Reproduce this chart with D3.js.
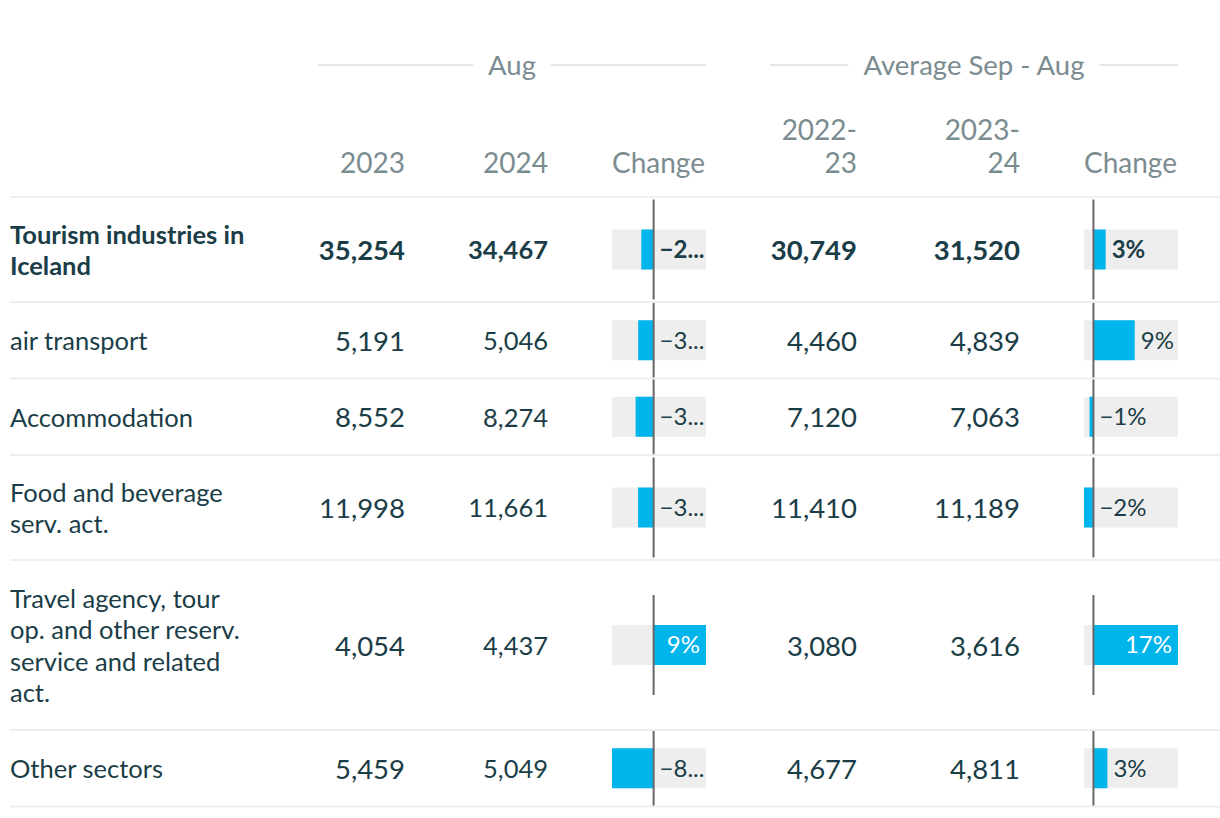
<!DOCTYPE html>
<html><head><meta charset="utf-8">
<script src="https://cdn.jsdelivr.net/npm/d3@7"></script>
<style>
body{margin:0;background:#fff}
text{font-family:Lato,"Noto Sans",sans-serif}
</style></head>
<body><svg id="c" width="1220" height="818"></svg>
<script>
const rowLabels = ["Tourism industries in Iceland","air transport","Accommodation","Food and beverage serv. act.","Travel agency, tour op. and other reserv. service and related act.","Other sectors"];
const aug2023 = [35254,5191,8552,11998,4054,5459];
const aug2024 = [34467,5046,8274,11661,4437,5049];
const augChange = [-2.23,-2.79,-3.25,-2.81,9.45,-7.51];
const avg2223 = [30749,4460,7120,11410,3080,4677];
const avg2324 = [31520,4839,7063,11189,3616,4811];
const avgChange = [2.51,8.50,-0.80,-1.94,17.40,2.87];
const groupHeaders = ["Aug","Average Sep - Aug"];
const columnHeaders = [["2023"],["2024"],["Change"],["2022-","23"],["2023-","24"],["Change"]];

const svg = d3.select("#c");
const dark = "#1a3d47", grey = "#7b8c90", blue = "#00b4ec", bg = "#eeeeee";
const fmtN = d3.format(",");
const fmtP = d3.format(".0%");

// group headers
const groups = [{x0:318,x1:706},{x0:770,x1:1178}];
groups.forEach((g,i)=>{
  const cx=(g.x0+g.x1)/2;
  const t=svg.append("text").attr("x",cx).attr("y",65).attr("dy","0.35em")
    .attr("text-anchor","middle").attr("fill",grey).attr("font-size",27.5).text(groupHeaders[i]);
  const w=t.node().getComputedTextLength();
  svg.append("line").attr("x1",g.x0).attr("x2",cx-w/2-15).attr("y1",65).attr("y2",65).attr("stroke","#c8cdcf").attr("stroke-width",1);
  svg.append("line").attr("x1",cx+w/2+15).attr("x2",g.x1).attr("y1",65).attr("y2",65).attr("stroke","#c8cdcf").attr("stroke-width",1);
});

// columns
const colRight=[405,548,706,857,1020,1178];
columnHeaders.forEach((lines,i)=>{
  lines.forEach((l,j)=>{
    svg.append("text").attr("x",colRight[i]-(i==2||i==5?1:0)).attr("y",163-(lines.length-1-j)*33).attr("dy","0.35em")
      .attr("text-anchor","end").attr("fill",grey).attr("font-size",28).text(l);
  });
});

const labelFs=25.5;
function wrap(str,bold,maxW){
  const tmp=svg.append("text").attr("font-size",labelFs).attr("font-weight",bold?700:400);
  const words=str.split(" "); const lines=[]; let cur="";
  words.forEach(w=>{
    const test=cur?cur+" "+w:w;
    tmp.text(test);
    if(tmp.node().getComputedTextLength()>maxW && cur){lines.push(cur);cur=w;} else cur=test;
  });
  lines.push(cur); tmp.remove(); return lines;
}

const lineH=32.5, pad=20;
let y=197;
const rows=rowLabels.map((lab,i)=>{
  const lines=wrap(lab,i===0,242);
  const h=Math.max(76.5,lines.length*lineH+pad*2);
  const r={i,lab,lines,top:y,h,cy:y+h/2};
  y+=h; return r;
});

// separators
svg.append("line").attr("x1",10).attr("x2",1220).attr("y1",197).attr("y2",197).attr("stroke",bg).attr("stroke-width",2);
rows.forEach(r=>svg.append("line").attr("x1",10).attr("x2",1220).attr("y1",r.top+r.h).attr("y2",r.top+r.h).attr("stroke",bg).attr("stroke-width",2));

const xAug=d3.scaleLinear().domain([Math.min(0,d3.min(augChange)),Math.max(0,d3.max(augChange))]).range([612,706]);
const xAvg=d3.scaleLinear().domain([Math.min(0,d3.min(avgChange)),Math.max(0,d3.max(avgChange))]).range([1084,1178]);

function barCell(r,v,x,bold){
  const g=svg.append("g");
  const [x0,x1]=x.range();
  g.append("rect").attr("x",x0).attr("y",r.cy-20).attr("width",x1-x0).attr("height",40).attr("fill",bg);
  const z=x(0), e=x(v);
  g.append("rect").attr("x",Math.min(z,e)).attr("y",r.cy-20).attr("width",Math.abs(e-z)).attr("height",40).attr("fill",blue);
  const half=Math.min(50,r.h/2-1);
  g.append("line").attr("x1",z).attr("x2",z).attr("y1",r.cy-half).attr("y2",r.cy+half).attr("stroke","#666").attr("stroke-width",2);
  const label=fmtP(v/100);
  const t=g.append("text").attr("y",r.cy).attr("dy","0.35em").attr("font-size",24).attr("font-weight",bold?700:400).text(label);
  const tw=t.node().getComputedTextLength();
  const start=Math.max(z,e)+6;
  const avail=x1-2-start;
  if(tw<=avail){ t.attr("x",start).attr("fill",dark); }
  else if(v>0 && tw<=e-z-10){ t.attr("x",e-6).attr("text-anchor","end").attr("fill","#fff"); }
  else {
    t.attr("x",start).attr("fill",dark);
    let s=label;
    while(s.length>2){ s=s.slice(0,-1); t.text(s+"..."); if(t.node().getComputedTextLength()<=avail) break; }
  }
}

rows.forEach(r=>{
  const bold=r.i===0;
  const fw=bold?700:400;
  r.lines.forEach((l,j)=>{
    svg.append("text").attr("x",10).attr("y",r.top+r.h/2+(j-(r.lines.length-1)/2)*31.5+1).attr("dy","0.35em")
      .attr("fill",dark).attr("font-size",labelFs).attr("font-weight",fw).text(l);
  });
  const nums=[[aug2023,0,27.5],[aug2024,1,25.5],[avg2223,3,27.5],[avg2324,4,27.5]];
  nums.forEach(([arr,c,fs])=>{
    svg.append("text").attr("x",colRight[c]).attr("y",r.cy+1).attr("dy","0.35em").attr("text-anchor","end")
      .attr("fill",dark).attr("font-size",fs).attr("font-weight",fw).text(fmtN(arr[r.i]));
  });
  barCell(r,augChange[r.i],xAug,bold);
  barCell(r,avgChange[r.i],xAvg,bold);
});
</script></body></html>
